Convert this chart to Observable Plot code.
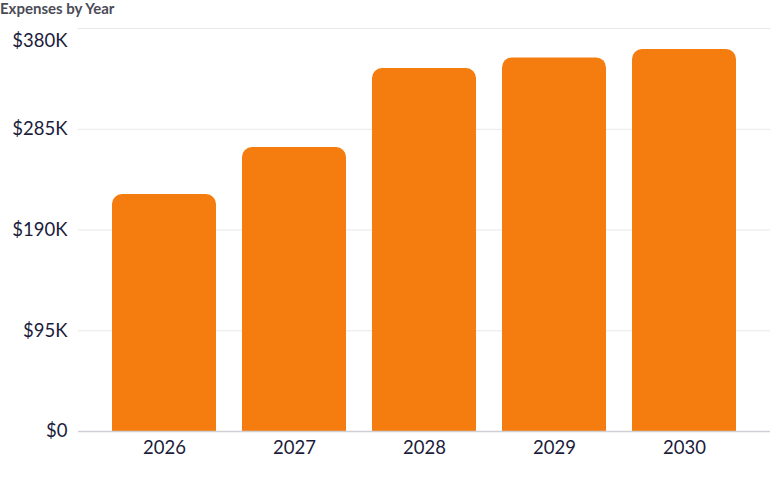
<!DOCTYPE html>
<html>
<head>
<meta charset="utf-8">
<script src="https://cdn.jsdelivr.net/npm/d3@7"></script>
<script src="https://cdn.jsdelivr.net/npm/@observablehq/plot@0.6"></script>
<style>
  html, body { margin: 0; padding: 0; background: #fff; }
  #title { font-family: Lato, "Open Sans", sans-serif; font-weight: 700; font-size: 15px; color: #4b4b57; height: 18px; line-height: 17px; padding-left: 0; }
</style>
</head>
<body>
<div id="title">Expenses by Year</div>
<div id="chart"></div>
<script>
const years = ["2026", "2027", "2028", "2029", "2030"];
const expenses = [223400, 267700, 342300, 352300, 360200];
const yTicks = [0, 95000, 190000, 285000, 380000];
const yTickLabels = ["$0", "$95K", "$190K", "$285K", "$380K"];

const data = years.map((year, i) => ({year, value: expenses[i]}));
const fmt = d => yTickLabels[yTicks.indexOf(d)];
const topTick = yTicks[yTicks.length - 1];

const chart = Plot.plot({
  width: 770,
  height: 459,
  marginTop: 10,
  marginBottom: 46,
  marginLeft: 78,
  marginRight: 0,
  style: {fontFamily: "Lato, 'Open Sans', sans-serif", fontSize: "18.5px", color: "#1c1c3c", background: "#fff"},
  x: {domain: years, paddingInner: 0.2, paddingOuter: 0.26, label: null},
  y: {domain: [0, 380000], label: null},
  marks: [
    Plot.ruleY(yTicks.filter(d => d > 0), {stroke: "#e8e8ec", strokeWidth: 1}),
    Plot.barY(data, {x: "year", y: "value", fill: "#f57c0e", ry1: 10}),
    Plot.ruleY([0], {stroke: "#cfcfd6", strokeWidth: 1.5}),
    Plot.axisX({tickSize: 0, tickPadding: 9, label: null}),
    Plot.axisY(yTicks.filter(d => d !== topTick), {tickSize: 0, tickPadding: 11, tickFormat: fmt, label: null}),
    Plot.axisY([topTick], {tickSize: 0, tickPadding: 11, tickFormat: fmt, label: null, dy: 13})
  ]
});
document.getElementById("chart").appendChild(chart);
</script>
</body>
</html>
